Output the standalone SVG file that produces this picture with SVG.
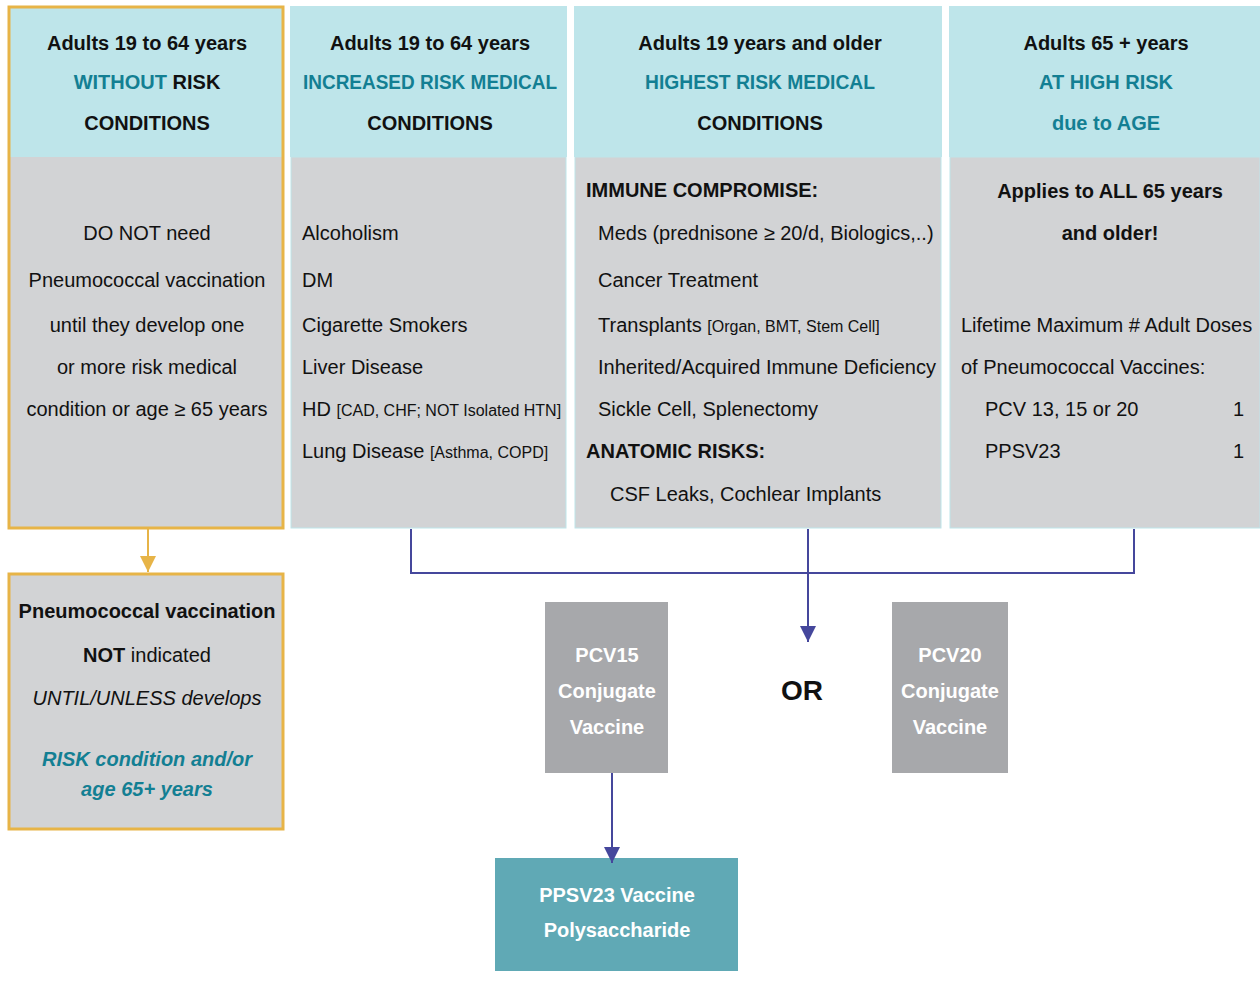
<svg xmlns="http://www.w3.org/2000/svg" width="1260" height="997" viewBox="0 0 1260 997">
  <style>
    text { font-family: "Liberation Sans", Arial, sans-serif; fill: #111; }
    .hd { font-weight: bold; font-size: 20px; text-anchor: middle; }
    .teal { fill: #137f93; }
    .body { font-size: 20px; }
    .sm { font-size: 16px; }
    .c { text-anchor: middle; }
    .b { font-weight: bold; }
    .head { fill: #bee5ea; }
    .panel { fill: #d2d3d5; }
    .wt { fill: #ffffff; font-weight: bold; font-size: 20px; text-anchor: middle; }
    .purple { stroke: #45479c; stroke-width: 2; fill: none; }
    .orange { stroke: #e7b447; stroke-width: 2; fill: none; }
  </style>
  <defs>
    <marker id="arrP" viewBox="0 0 10 10" refX="10" refY="5" markerWidth="16" markerHeight="18" markerUnits="userSpaceOnUse" orient="auto">
      <path d="M0,0 L10,5 L0,10 Z" fill="#45479c"/>
    </marker>
    <marker id="arrO" viewBox="0 0 10 10" refX="10" refY="5" markerWidth="16" markerHeight="20" markerUnits="userSpaceOnUse" orient="auto">
      <path d="M0,0 L10,5 L0,10 Z" fill="#e7b447"/>
    </marker>
  </defs>

  <!-- column 1: adults without risk conditions -->
  <g id="no-risk">
    <rect x="9" y="7" width="274" height="150" class="head"/>
    <rect x="9" y="157" width="274" height="371" class="panel"/>
    <rect x="9" y="7" width="274" height="521" fill="none" stroke="#e7b447" stroke-width="3"/>
    <text x="147" y="50" class="hd">Adults 19 to 64 years</text>
    <text x="147" y="89" class="hd"><tspan class="teal">WITHOUT</tspan> RISK</text>
    <text x="147" y="130" class="hd">CONDITIONS</text>
    <text x="147" y="240" class="body c">DO NOT need</text>
    <text x="147" y="287" class="body c">Pneumococcal vaccination</text>
    <text x="147" y="332" class="body c">until they develop one</text>
    <text x="147" y="374" class="body c">or more risk medical</text>
    <text x="147" y="416" class="body c">condition or age ≥ 65 years</text>
  </g>

  <!-- column 2: increased risk -->
  <g id="increased-risk">
    <rect x="290" y="6" width="277" height="151" class="head"/>
    <rect x="291" y="157" width="275" height="371" class="panel" stroke="#bee5ea" stroke-width="1"/>
    <text x="430" y="50" class="hd">Adults 19 to 64 years</text>
    <text x="430" y="89" class="hd teal" textLength="254" lengthAdjust="spacingAndGlyphs">INCREASED RISK MEDICAL</text>
    <text x="430" y="130" class="hd">CONDITIONS</text>
    <text x="302" y="240" class="body">Alcoholism</text>
    <text x="302" y="287" class="body">DM</text>
    <text x="302" y="332" class="body">Cigarette Smokers</text>
    <text x="302" y="374" class="body">Liver Disease</text>
    <text x="302" y="416" class="body">HD <tspan class="sm">[CAD, CHF; NOT Isolated HTN]</tspan></text>
    <text x="302" y="458" class="body">Lung Disease <tspan class="sm">[Asthma, COPD]</tspan></text>
  </g>

  <!-- column 3: highest risk -->
  <g id="highest-risk">
    <rect x="574" y="6" width="368" height="151" class="head"/>
    <rect x="575" y="157" width="366" height="371" class="panel" stroke="#bee5ea" stroke-width="1"/>
    <text x="760" y="50" class="hd">Adults 19 years and older</text>
    <text x="760" y="89" class="hd teal" textLength="230" lengthAdjust="spacingAndGlyphs">HIGHEST RISK MEDICAL</text>
    <text x="760" y="130" class="hd">CONDITIONS</text>
    <text x="586" y="197" class="body b">IMMUNE COMPROMISE:</text>
    <text x="598" y="240" class="body">Meds (prednisone ≥ 20/d, Biologics,..)</text>
    <text x="598" y="287" class="body">Cancer Treatment</text>
    <text x="598" y="332" class="body">Transplants <tspan class="sm">[Organ, BMT, Stem Cell]</tspan></text>
    <text x="598" y="374" class="body">Inherited/Acquired Immune Deficiency</text>
    <text x="598" y="416" class="body">Sickle Cell, Splenectomy</text>
    <text x="586" y="458" class="body b">ANATOMIC RISKS:</text>
    <text x="610" y="501" class="body">CSF Leaks, Cochlear Implants</text>
  </g>

  <!-- column 4: age 65+ -->
  <g id="age-65">
    <rect x="949" y="6" width="311" height="151" class="head"/>
    <rect x="950" y="157" width="310" height="371" class="panel" stroke="#bee5ea" stroke-width="1"/>
    <text x="1106" y="50" class="hd">Adults 65 + years</text>
    <text x="1106" y="89" class="hd teal">AT HIGH RISK</text>
    <text x="1106" y="130" class="hd teal">due to AGE</text>
    <text x="1110" y="198" class="body b c">Applies to ALL 65 years</text>
    <text x="1110" y="240" class="body b c">and older!</text>
    <text x="961" y="332" class="body">Lifetime Maximum # Adult Doses</text>
    <text x="961" y="374" class="body">of Pneumococcal Vaccines:</text>
    <text x="985" y="416" class="body">PCV 13, 15 or 20</text>
    <text x="1244" y="416" class="body" text-anchor="end">1</text>
    <text x="985" y="458" class="body">PPSV23</text>
    <text x="1244" y="458" class="body" text-anchor="end">1</text>
  </g>

  <!-- not indicated -->
  <g id="not-indicated">
    <rect x="9" y="574" width="274" height="255" class="panel" stroke="#e7b447" stroke-width="3"/>
    <text x="147" y="618" class="body b c">Pneumococcal vaccination</text>
    <text x="147" y="662" class="body c"><tspan class="b">NOT</tspan> indicated</text>
    <text x="147" y="705" class="body c" font-style="italic">UNTIL/UNLESS develops</text>
    <text x="147" y="766" class="body c b teal" font-style="italic">RISK condition and/or</text>
    <text x="147" y="796" class="body c b teal" font-style="italic">age 65+ years</text>
  </g>

  <!-- conjugate vaccines -->
  <g id="pcv15">
    <rect x="545" y="602" width="123" height="171" fill="#a7a8ab"/>
    <text x="607" y="662" class="wt">PCV15</text>
    <text x="607" y="698" class="wt">Conjugate</text>
    <text x="607" y="734" class="wt">Vaccine</text>
  </g>
  <g id="or">
    <text x="802" y="700" font-size="28" font-weight="bold" text-anchor="middle">OR</text>
  </g>
  <g id="pcv20">
    <rect x="892" y="602" width="116" height="171" fill="#a7a8ab"/>
    <text x="950" y="662" class="wt">PCV20</text>
    <text x="950" y="698" class="wt">Conjugate</text>
    <text x="950" y="734" class="wt">Vaccine</text>
  </g>

  <!-- polysaccharide vaccine -->
  <g id="ppsv23">
    <rect x="495" y="858" width="243" height="113" fill="#60a9b5"/>
    <text x="617" y="902" class="wt">PPSV23 Vaccine</text>
    <text x="617" y="937" class="wt">Polysaccharide</text>
  </g>

  <!-- connectors -->
  <g id="connectors">
    <line x1="148" y1="529" x2="148" y2="572" class="orange" marker-end="url(#arrO)"/>
    <polyline points="411,529 411,573 1134,573 1134,529" class="purple"/>
    <line x1="808" y1="529" x2="808" y2="642" class="purple" marker-end="url(#arrP)"/>
    <line x1="612" y1="773" x2="612" y2="863" class="purple" marker-end="url(#arrP)"/>
  </g>
</svg>
